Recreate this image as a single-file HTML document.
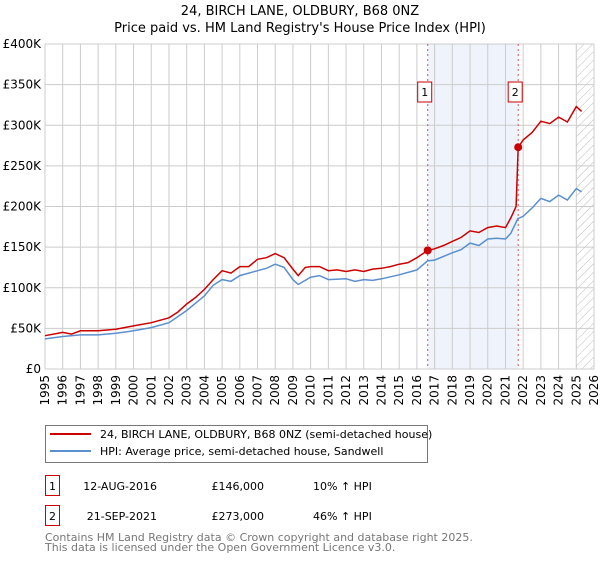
<!DOCTYPE html>
<html><head><meta charset="utf-8"><style>
body{margin:0;background:#fff;font-family:"Liberation Sans","DejaVu Sans",sans-serif;}
svg text{font-family:"DejaVu Sans","Liberation Sans",sans-serif;}
</style></head><body>
<svg width="600" height="560" xmlns="http://www.w3.org/2000/svg">
<g id="root"></g>
</svg>
<script>
const redX=[1995,1996,1996.5,1997,1998,1999,2000,2001,2002,2002.5,2003,2003.5,2004,2004.5,2005,2005.5,2006,2006.5,2007,2007.5,2008,2008.5,2009,2009.3,2009.7,2010,2010.5,2011,2011.5,2012,2012.5,2013,2013.5,2014,2014.5,2015,2015.5,2016,2016.61,2017,2017.5,2018,2018.5,2019,2019.5,2020,2020.5,2021,2021.3,2021.6,2021.72,2022,2022.5,2023,2023.5,2024,2024.5,2025,2025.3];
const redY=[41,45,43,47,47,49,53,57,63,70,80,88,98,110,121,118,126,126,135,137,142,137,123,115,125,126,126,121,122,120,122,120,123,124,126,129,131,137,146,148,152,157,162,170,168,174,176,174,186,200,273,282,291,305,302,310,304,323,317];
const hpiX=[1995,1996,1997,1998,1999,2000,2001,2002,2003,2004,2004.5,2005,2005.5,2006,2007,2007.5,2008,2008.5,2009,2009.3,2010,2010.5,2011,2012,2012.5,2013,2013.5,2014,2015,2016,2016.6,2017,2018,2018.5,2019,2019.5,2020,2020.5,2021,2021.3,2021.7,2022,2022.5,2023,2023.5,2024,2024.5,2025,2025.3];
const hpiY=[37,40,42,42,44,47,51,57,72,90,103,110,108,115,121,124,129,125,110,104,113,115,110,111,108,110,109,111,116,122,133,134,143,147,155,152,160,161,160,167,185,188,198,210,206,214,208,222,218];
const yTicks=[0,50,100,150,200,250,300,350,400];
const yTickLabels=["£0","£50K","£100K","£150K","£200K","£250K","£300K","£350K","£400K"];
const years=[];for(let y=1995;y<=2026;y++)years.push(y);
const sales=[{n:"1",x:2016.61,v:146},{n:"2",x:2021.72,v:273}];

const L=45,R=594,T=44,B=369,x0=1995,x1=2026;
const sx=x=>L+(x-x0)/(x1-x0)*(R-L);
const sy=v=>B-v/400*(B-T);
const NS="http://www.w3.org/2000/svg";
const root=document.getElementById('root');
function el(t,a,p){const e=document.createElementNS(NS,t);for(const k in a)e.setAttribute(k,a[k]);(p||root).appendChild(e);return e;}
function txt(s,a,p){const e=el('text',a,p);e.textContent=s;return e;}

let t=txt("24, BIRCH LANE, OLDBURY, B68 0NZ",{x:300,y:15,'text-anchor':'middle','font-size':13});


t=txt("Price paid vs. HM Land Registry's House Price Index (HPI)",{x:300,y:32,'text-anchor':'middle','font-size':13});



let r=el('rect',{x:sx(sales[0].x),y:T,width:sx(sales[1].x)-sx(sales[0].x),height:B-T,fill:'#eef3fc'});


const defs=el('defs',{});
const pat=el('pattern',{id:'h',width:6,height:6,patternUnits:'userSpaceOnUse',patternTransform:'rotate(45)'},defs);
el('line',{x1:0,y1:0,x2:0,y2:6,stroke:'#bbb','stroke-width':1},pat);
r=el('rect',{x:sx(2025.0),y:T,width:R-sx(2025.0),height:B-T,fill:'url(#h)',stroke:'#999','stroke-width':0.5});



years.forEach(y=>{let l=el('line',{x1:sx(y),y1:T,x2:sx(y),y2:B,stroke:'#ccc','stroke-width':1});


let tx=txt(String(y),{transform:`translate(${sx(y)+4},${B+6}) rotate(-90)`,'text-anchor':'end','font-size':12});

});
yTicks.forEach((v,i)=>{let l=el('line',{x1:L,y1:sy(v),x2:R,y2:sy(v),stroke:'#ccc','stroke-width':1});


let tx=txt(yTickLabels[i],{x:L-4,y:sy(v)+4,'text-anchor':'end','font-size':12});

});

sales.forEach(s=>{let l=el('line',{x1:sx(s.x),y1:T,x2:sx(s.x),y2:B,stroke:'#e05050','stroke-width':1,'stroke-dasharray':'2,3'});


let b=el('rect',{x:sx(s.x)-10,y:82,width:14,height:20,fill:'#fff',stroke:'#c00'});


txt(s.n,{x:sx(s.x)-3,y:96,'text-anchor':'middle','font-size':11});});

const path=(xs,ys)=>xs.map((x,i)=>(i?'L':'M')+sx(x).toFixed(1)+','+sy(ys[i]).toFixed(1)).join('');
let p=el('path',{d:path(hpiX,hpiY),fill:'none',stroke:'#5b8fd0','stroke-width':1.5});


p=el('path',{d:path(redX,redY),fill:'none',stroke:'#cc0000','stroke-width':1.5});


sales.forEach(s=>{let c=el('circle',{cx:sx(s.x),cy:sy(s.v),r:4,fill:'#cc0000'});

});

const lg=el('g',{});


el('rect',{x:45.5,y:425.5,width:382,height:37,fill:'#fff',stroke:'#777'},lg);
el('line',{x1:50,y1:434,x2:91,y2:434,stroke:'#cc0000','stroke-width':2},lg);
txt("24, BIRCH LANE, OLDBURY, B68 0NZ (semi-detached house)",{x:100,y:438,'font-size':11},lg);
el('line',{x1:50,y1:451,x2:91,y2:451,stroke:'#5b8fd0','stroke-width':2},lg);
txt("HPI: Average price, semi-detached house, Sandwell",{x:100,y:455,'font-size':11},lg);

const rows=[["1","12-AUG-2016","£146,000","10% \u2191 HPI",475],["2","21-SEP-2021","£273,000","46% \u2191 HPI",505]];
rows.forEach(rw=>{const g=el('g',{});


el('rect',{x:45.5,y:rw[4]+0.5,width:14,height:20,fill:'#fff',stroke:'#c00'},g);
txt(rw[0],{x:52.5,y:rw[4]+15,'text-anchor':'middle','font-size':11},g);
txt(rw[1],{x:157,y:rw[4]+15,'text-anchor':'end','font-size':11},g);
txt(rw[2],{x:264,y:rw[4]+15,'text-anchor':'end','font-size':11},g);
txt(rw[3],{x:313,y:rw[4]+15,'font-size':11},g);});
t=txt("Contains HM Land Registry data © Crown copyright and database right 2025.",{x:45,y:541,'font-size':11,fill:'#777'});


t=txt("This data is licensed under the Open Government Licence v3.0.",{x:45,y:551,'font-size':11,fill:'#777'});


</script>
</body></html>
